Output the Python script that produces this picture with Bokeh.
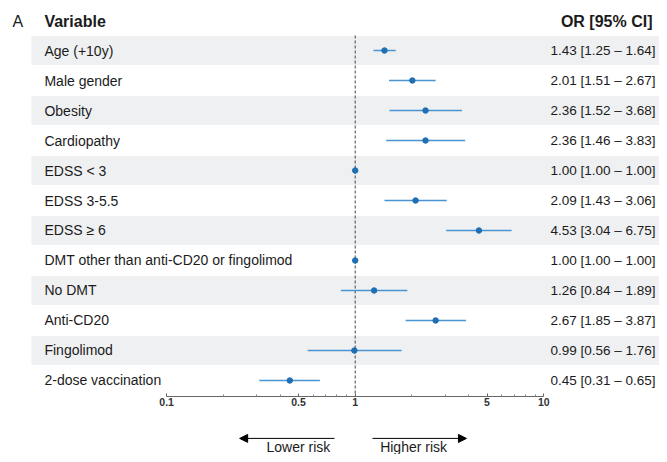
from bokeh.plotting import figure
from bokeh.models import (Range1d, LogAxis, FixedTicker, ColumnDataSource, Arrow,
                          NormalHead, NumeralTickFormatter)
from bokeh.core.properties import value
from bokeh.embed import file_html
from bokeh.resources import INLINE

# ---------------- data ----------------
variables = ["Age (+10y)", "Male gender", "Obesity", "Cardiopathy", "EDSS < 3",
             "EDSS 3-5.5", "EDSS \u2265 6", "DMT other than anti-CD20 or fingolimod",
             "No DMT", "Anti-CD20", "Fingolimod", "2-dose vaccination"]
odds_ratio = [1.43, 2.01, 2.36, 2.36, 1.00, 2.09, 4.53, 1.00, 1.26, 2.67, 0.99, 0.45]
ci_low = [1.25, 1.51, 1.52, 1.46, 1.00, 1.43, 3.04, 1.00, 0.84, 1.85, 0.56, 0.31]
ci_high = [1.64, 2.67, 3.68, 3.83, 1.00, 3.06, 6.75, 1.00, 1.89, 3.87, 1.76, 0.65]
tick_values = [0.1, 0.5, 1, 5, 10]
minor_tick_values = [0.2, 0.3, 0.4, 0.6, 0.7, 0.8, 0.9, 2, 3, 4, 6, 7, 8, 9]
reference_or = 1.0

# ---------------- layout constants (data units) ----------------
X_MIN, X_MAX = 0.01316, 41.07
Y_TOP, Y_BOTTOM = -1.6667, 13.4667
PANEL_X = 0.01524
LABEL_X = 0.0225
VALUE_X = 39.1
HEADER_VALUE_X = 37.7
BAND_LEFT, BAND_RIGHT = 0.0192, 60.0
HEADER_ROW = -0.98
AXIS_ROW = 11.53
ARROW_ROW = 12.93
RISK_TEXT_ROW = 13.22
LOWER_ARROW = (0.777, 0.244)
HIGHER_ARROW = (1.235, 3.89)
LOWER_TEXT_X, HIGHER_TEXT_X = 0.5, 2.04

FONT = value("Liberation Sans")
TEXT_COLOR = "#1b1b1b"

rows = list(range(len(variables)))
value_text = [f"{o:.2f} [{l:.2f} \u2013 {h:.2f}]" for o, l, h in zip(odds_ratio, ci_low, ci_high)]

src = ColumnDataSource(dict(row=rows, var=variables, orv=odds_ratio, lo=ci_low,
                            hi=ci_high, txt=value_text))
band_rows = rows[0::2]
band_src = ColumnDataSource(dict(top=[r - 0.48 for r in band_rows],
                                 bottom=[r + 0.48 for r in band_rows],
                                 left=[BAND_LEFT] * len(band_rows),
                                 right=[BAND_RIGHT] * len(band_rows)))

p = figure(width=659, height=454, x_axis_type="log", x_axis_location=None,
           y_axis_location=None, x_range=Range1d(X_MIN, X_MAX),
           y_range=Range1d(Y_BOTTOM, Y_TOP), output_backend="svg",
           toolbar_location=None, min_border=0)
p.outline_line_color = None
p.grid.visible = False
p.background_fill_color = "white"

# shaded bands
p.quad(left="left", right="right", top="top", bottom="bottom", source=band_src,
       fill_color="#eff0f2", line_color=None)

# reference line
p.segment(x0=[reference_or], x1=[reference_or], y0=[-0.5], y1=[AXIS_ROW],
          line_color="#444444", line_dash="3 2", line_width=1)

# CIs and points
p.segment(x0="lo", x1="hi", y0="row", y1="row", source=src,
          line_color="#4a94d2", line_width=1.3)
p.scatter(x="orv", y="row", source=src, size=5.5, fill_color="#1f6fb2",
          line_color="#1f6fb2")

# texts
p.text(x=LABEL_X, y="row", text="var", source=src, text_font=FONT,
       text_font_size="14px", text_baseline="middle", text_align="left",
       text_color=TEXT_COLOR)
p.text(x=VALUE_X, y="row", text="txt", source=src, text_font=FONT,
       text_font_size="13.5px", text_baseline="middle", text_align="right",
       text_color=TEXT_COLOR)
p.text(x=[PANEL_X], y=[HEADER_ROW], text=["A"], text_font=FONT,
       text_font_size="16px", text_baseline="middle", text_align="left",
       text_color=TEXT_COLOR)
p.text(x=[LABEL_X], y=[HEADER_ROW], text=["Variable"], text_font=FONT,
       text_font_size="16px", text_font_style="bold", text_baseline="middle",
       text_align="left", text_color=TEXT_COLOR)
p.text(x=[HEADER_VALUE_X], y=[HEADER_ROW], text=["OR [95% CI]"], text_font=FONT,
       text_font_size="16px", text_font_style="bold", text_baseline="middle",
       text_align="right", text_color=TEXT_COLOR)
p.text(x=[LOWER_TEXT_X, HIGHER_TEXT_X], y=[RISK_TEXT_ROW] * 2,
       text=["Lower risk", "Higher risk"], text_font=FONT, text_font_size="14px",
       text_baseline="middle", text_align="center", text_color=TEXT_COLOR)

# arrows
for xs, xe in (LOWER_ARROW, HIGHER_ARROW):
    p.add_layout(Arrow(end=NormalHead(size=8, fill_color="black", line_color="black"),
                       x_start=xs, y_start=ARROW_ROW, x_end=xe, y_end=ARROW_ROW,
                       line_color="black", line_width=1))

# axis
ax = LogAxis(ticker=FixedTicker(ticks=tick_values, minor_ticks=minor_tick_values),
             formatter=NumeralTickFormatter(format="0.[0]"),
             bounds=(tick_values[0], tick_values[-1]), fixed_location=AXIS_ROW)
ax.axis_line_color = "#666666"
ax.major_tick_line_color = "#666666"
ax.minor_tick_line_color = "#888888"
ax.major_tick_in = 3
ax.major_tick_out = 0
ax.minor_tick_in = 2
ax.minor_tick_out = 0
ax.major_label_text_font = "Liberation Sans"
ax.major_label_text_font_size = "10.5px"
ax.major_label_text_font_style = "bold"
ax.major_label_text_color = "#333333"
ax.major_label_standoff = 2
p.add_layout(ax, "below")

open("out.html", "w").write(file_html(p, INLINE))
